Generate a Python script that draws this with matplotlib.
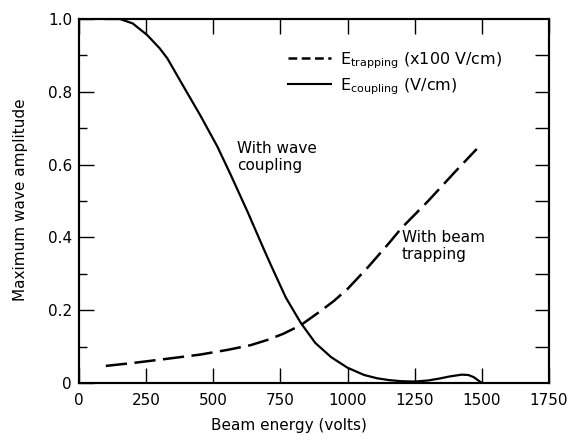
import matplotlib
matplotlib.use("Agg")
import matplotlib.pyplot as plt
from matplotlib.lines import Line2D
import numpy as np

# values
coupling_x = [100, 153, 200, 254, 300, 329, 389, 452, 515, 565, 628, 688, 714,
              770, 826, 880, 939, 1000, 1062, 1110, 1155, 1200, 1250,
              1300, 1340, 1380, 1425, 1450, 1470, 1485, 1500]
coupling_y = [1.0, 1.0, 0.988, 0.956, 0.920, 0.892, 0.815, 0.735, 0.650,
              0.572, 0.470, 0.368, 0.325, 0.235, 0.165, 0.11, 0.071,
              0.042, 0.022, 0.013, 0.008, 0.005, 0.004, 0.007, 0.012, 0.018,
              0.023, 0.022, 0.016, 0.008, 0.0]

trapping_x = [100, 200, 322, 450, 553, 639, 700, 760, 826, 900, 950, 1002,
              1077, 1155, 1200, 1300, 1400, 1481]
trapping_y = [0.047, 0.055, 0.066, 0.078, 0.091, 0.104, 0.118, 0.135, 0.159,
              0.198, 0.226, 0.26, 0.319, 0.385, 0.425, 0.50, 0.58, 0.643]

xticks = [0, 250, 500, 750, 1000, 1250, 1500, 1750]
yticks = [0, 0.2, 0.4, 0.6, 0.8, 1.0]
ytick_labels = ["0", "0.2", "0.4", "0.6", "0.8", "1.0"]

plt.rcParams['font.family'] = ['DejaVu Sans']

fig = plt.figure(figsize=(5.74, 4.43), dpi=100)
ax = fig.add_axes([0.1376, 0.1354, 0.8188, 0.8216])

dash = (0, (8.5, 3))
ax.plot(coupling_x, coupling_y, color='black', lw=1.6)
ax.plot(trapping_x, trapping_y, color='black', lw=1.8, linestyle=dash)

ax.set_xlim(0, 1750)
ax.set_ylim(0, 1.0)
ax.set_xticks(xticks)
ax.set_xticklabels([str(v) for v in xticks], fontsize=11)
ax.set_yticks(yticks)
ax.set_yticklabels(ytick_labels, fontsize=11)
ax.set_yticks(np.arange(0.1, 1.0, 0.2), minor=True)

ax.tick_params(axis='x', which='major', direction='in', length=11, width=1,
               top=True, pad=7)
ax.tick_params(axis='y', which='major', direction='in', length=11, width=1,
               right=False, pad=5)
ax.tick_params(axis='y', which='minor', direction='in', length=6, width=1,
               right=False)

# right side has ticks every 0.1
ax2 = ax.twinx()
ax2.set_ylim(0, 1.0)
ax2.set_yticks(np.arange(0.1, 1.0, 0.1))
ax2.tick_params(direction='in', length=10, width=1, labelright=False)

for a in (ax, ax2):
    for s in a.spines.values():
        s.set_linewidth(1.5)

ax.set_xlabel("Beam energy (volts)", fontsize=11)
ax.xaxis.set_label_coords(0.447, -0.095)
ax.set_ylabel("Maximum wave amplitude", fontsize=11)
ax.yaxis.set_label_coords(-0.108, 0.503)

ax.text(0.336, 0.665, "With wave\ncoupling", transform=ax.transAxes,
        fontsize=11, va='top', ha='left', linespacing=1.15)
ax.text(0.687, 0.42, "With beam\ntrapping", transform=ax.transAxes,
        fontsize=11, va='top', ha='left', linespacing=1.15)

handles = [Line2D([], [], color='black', lw=1.8, linestyle=(0, (3.5, 1.8))),
           Line2D([], [], color='black', lw=1.5)]
labels = [r"E$_{\rm trapping}$ (x100 V/cm)", r"E$_{\rm coupling}$ (V/cm)"]
ax.legend(handles, labels, loc='upper left', bbox_to_anchor=(0.445, 0.915),
          frameon=False, fontsize=11.5, borderaxespad=0, borderpad=0,
          handlelength=2.7, handletextpad=0.55, labelspacing=0.35)

fig.savefig("out.png", dpi=100)
